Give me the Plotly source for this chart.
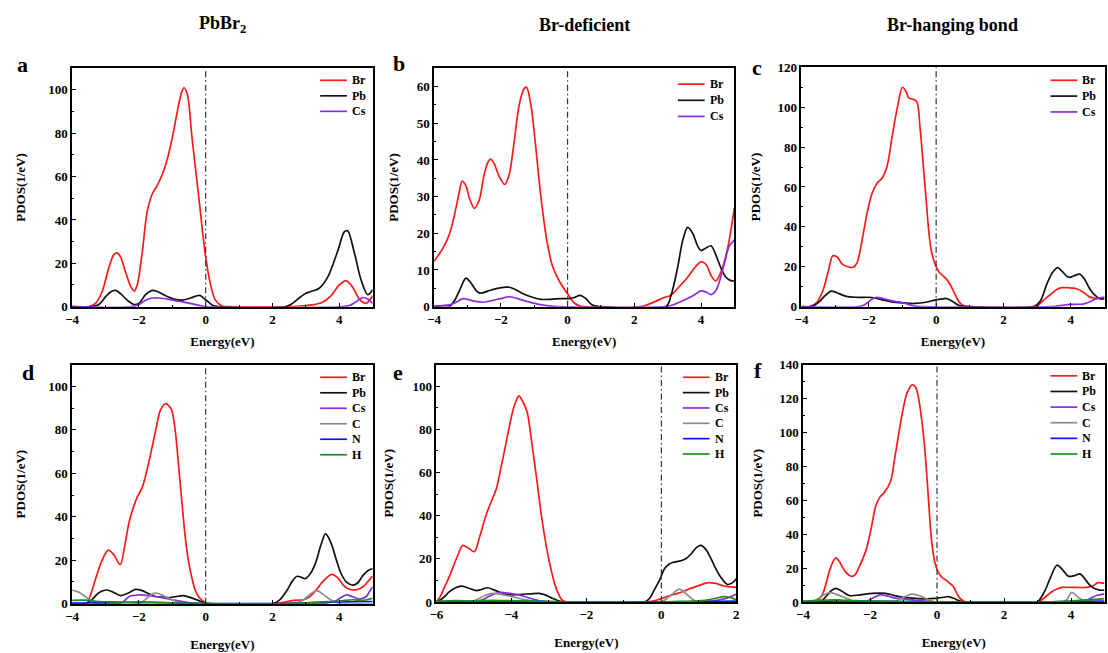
import plotly.graph_objects as go

# ---------------- Panel a : PbBr2 ----------------
a_br_e = [-4.0, -3.5, -3.3, -3.1, -2.9, -2.75, -2.65, -2.55, -2.4, -2.25, -2.14, -2.05, -1.9, -1.75, -1.6, -1.45, -1.3, -1.15, -1.0, -0.85, -0.72, -0.65, -0.55, -0.41, -0.21, -0.01, 0.14, 0.29, 0.49, 0.7, 2.5, 2.9, 3.2, 3.5, 3.75, 4.0, 4.2, 4.4, 4.6, 4.8, 5.0]
a_br_v = [0, 0, 1.5, 7, 18, 24, 24.8, 23, 16, 9.5, 7.2, 10, 25, 44, 52, 56, 61, 68, 78, 90, 99, 101, 98, 78, 51, 24, 10.5, 3, 0.3, 0, 0, 0.4, 0.8, 2.0, 5, 10, 12, 9, 3.5, 1.5, 5]
a_pb_e = [-4.0, -3.4, -3.2, -3.0, -2.85, -2.7, -2.55, -2.35, -2.15, -2.0, -1.8, -1.6, -1.45, -1.2, -0.95, -0.7, -0.45, -0.18, 0.0, 0.2, 0.4, 2.4, 2.6, 2.8, 3.0, 3.2, 3.4, 3.65, 3.95, 4.15, 4.25, 4.45, 4.65, 4.85, 5.0]
a_pb_v = [0, 0, 1, 4.5, 6.8, 7.5, 6, 3, 1, 1.5, 5.5, 7.5, 7, 5, 3.5, 3, 4, 5.2, 3.2, 0.7, 0, 0, 1.5, 4, 6.2, 7.2, 8.5, 13.5, 25.5, 34.5, 35, 25, 12.5, 5.5, 7.8]
a_cs_e = [-4, -2.2, -2.0, -1.8, -1.6, -1.4, -1.1, -0.8, -0.5, -0.2, 0.0, 4.1, 4.3, 4.5, 4.7, 4.85, 5.0]
a_cs_v = [0, 0, 1, 3, 4, 4, 3.4, 2.5, 1.6, 0.6, 0, 0, 0.5, 2.2, 4.2, 3.5, 1.5]

# ---------------- Panel b : Br-deficient ----------------
b_br_e = [-4.0, -3.8, -3.63, -3.5, -3.39, -3.25, -3.16, -3.05, -2.92, -2.79, -2.65, -2.5, -2.38, -2.31, -2.2, -2.05, -1.88, -1.75, -1.6, -1.45, -1.3, -1.23, -1.1, -0.97, -0.8, -0.62, -0.45, -0.25, 0.0, 0.2, 0.4, 0.55, 2.2, 2.6, 2.9, 3.1, 3.35, 3.6, 3.8, 4.0, 4.15, 4.3, 4.44, 4.6, 4.8, 5.0]
b_br_v = [12.4, 15, 17.8, 21, 25, 31, 34.2, 33, 29, 26.8, 29, 36, 39.5, 40.2, 39, 35.5, 33.3, 36, 45, 55, 59.5, 59.8, 55, 45, 30, 18, 11, 7, 3.5, 1.0, 0.1, 0, 0, 1.3, 2.5, 3.1, 5.5, 8, 10.5, 12.2, 11.5, 8.5, 7, 9.5, 16, 27]
b_pb_e = [-4, -3.55, -3.4, -3.24, -3.1, -3.04, -2.9, -2.75, -2.64, -2.5, -2.34, -2.1, -1.85, -1.75, -1.55, -1.35, -1.1, -0.8, -0.5, -0.2, 0.03, 0.2, 0.38, 0.55, 0.73, 0.9, 1.02, 2.95, 3.1, 3.3, 3.45, 3.6, 3.75, 3.9, 4.0, 4.15, 4.3, 4.45, 4.59, 4.75, 4.89, 5.0]
b_pb_v = [0, 0, 1.5, 4.4, 7.2, 7.8, 6.5, 4.5, 3.7, 3.9, 4.4, 5, 5.3, 5.3, 4.6, 3.6, 2.7, 2, 2, 2.2, 2.2, 2.5, 3.1, 2.2, 0.5, 0.1, 0, 0, 3, 10.7, 18, 21.6, 20, 16.5, 15.3, 16, 16.6, 14, 10.7, 8, 7.1, 7]
b_cs_e = [-4, -3.75, -3.53, -3.3, -3.14, -3.0, -2.8, -2.54, -2.3, -2.0, -1.75, -1.5, -1.16, -0.85, -0.56, -0.3, 2.9, 3.1, 3.3, 3.5, 3.7, 3.85, 4.0, 4.15, 4.3, 4.45, 4.59, 4.72, 4.84, 5.0]
b_cs_v = [0.2, 0.3, 0.5, 1.4, 2.2, 2.0, 1.5, 1.2, 1.6, 2.2, 2.7, 2.2, 1.3, 0.6, 0.2, 0, 0, 0.3, 1, 1.8, 2.7, 3.5, 4.3, 4.0, 3.3, 4.5, 8, 12.5, 16.4, 18.2]

# ---------------- Panel c : Br-hanging bond ----------------
c_br_e = [-4, -3.76, -3.55, -3.36, -3.2, -3.07, -2.95, -2.78, -2.62, -2.48, -2.35, -2.19, -2.05, -1.9, -1.75, -1.6, -1.45, -1.31, -1.15, -1.0, -0.9, -0.82, -0.7, -0.58, -0.48, -0.33, -0.14, 0.06, 0.2, 0.3, 0.42, 0.55, 0.7, 0.84, 1.0, 2.9, 3.05, 3.19, 3.33, 3.48, 3.6, 3.73, 3.9, 4.05, 4.17, 4.35, 4.56, 4.7, 4.85, 5.0]
c_br_v = [0, 0, 2, 8.2, 18, 25.5, 25, 21.2, 20, 19.6, 22, 34.3, 47, 57, 62, 64.5, 71, 85, 100, 110, 108, 104.8, 104, 102.9, 90, 60.4, 27.8, 18, 15.5, 13.9, 11, 6.5, 2, 0.3, 0, 0, 1, 3.3, 5.2, 7.3, 8.7, 9.5, 9.5, 9.3, 9, 7.5, 4.9, 4.3, 4.1, 4]
c_pb_e = [-4, -3.7, -3.5, -3.3, -3.12, -2.95, -2.78, -2.58, -2.3, -1.9, -1.6, -1.31, -1.0, -0.63, -0.3, -0.04, 0.15, 0.3, 0.5, 0.65, 0.8, 0.9, 2.9, 3.1, 3.29, 3.45, 3.61, 3.75, 3.9, 3.97, 4.1, 4.26, 4.4, 4.56, 4.7, 4.85, 5.0]
c_pb_v = [0, 0, 2, 5.5, 7.8, 7, 5.8, 4.9, 4.7, 4.6, 3.4, 2.4, 1.9, 1.6, 2.2, 3.3, 3.8, 4.1, 2.5, 0.8, 0.1, 0, 0, 3, 11.4, 17, 19.6, 17.5, 15, 14.7, 15.5, 16.3, 14, 9, 6, 4, 4]
c_cs_e = [-4, -2.3, -2.15, -2.04, -1.9, -1.8, -1.6, -1.41, -1.2, -1.02, -0.8, -0.63, -0.45, 3.4, 3.58, 3.8, 3.97, 4.2, 4.36, 4.55, 4.75, 5.0]
c_cs_v = [0, 0, 0.7, 2, 3.8, 4.6, 4.2, 3.3, 2.6, 2.1, 1.0, 0.3, 0, 0, 0.3, 0.8, 1.1, 1.2, 1.3, 2.3, 4.0, 4.8]

# ---------------- Panel d : PbBr2 with molecule ----------------
d_br_e = [-4, -3.58, -3.45, -3.28, -3.1, -2.92, -2.75, -2.56, -2.42, -2.29, -2.15, -2.05, -1.9, -1.75, -1.6, -1.48, -1.36, -1.21, -1.1, -1.01, -0.9, -0.81, -0.72, -0.62, -0.52, -0.42, -0.32, -0.22, -0.1, -0.03, 0.1, 2.1, 2.4, 2.64, 2.93, 3.1, 3.23, 3.5, 3.77, 3.95, 4.12, 4.25, 4.41, 4.55, 4.71, 4.85, 5.0]
d_br_v = [0, 0, 4, 12.3, 20, 24.6, 22.5, 18, 27, 37.8, 45, 49, 53.5, 62, 72.3, 81, 88.8, 92, 91, 88.8, 78, 63.3, 48, 31.8, 20, 12.3, 6.5, 3.3, 1.5, 0.6, 0, 0, 0.8, 1.5, 1.8, 3, 4.8, 10, 13.5, 12, 8.5, 7, 6.3, 6.5, 7.8, 10, 12.7]
d_pb_e = [-4, -3.58, -3.4, -3.2, -2.98, -2.8, -2.54, -2.3, -2.1, -1.9, -1.7, -1.5, -1.3, -1.11, -0.9, -0.67, -0.45, -0.22, -0.03, 0.1, 2.0, 2.2, 2.44, 2.6, 2.74, 2.88, 2.98, 3.12, 3.28, 3.45, 3.59, 3.75, 3.92, 4.05, 4.21, 4.41, 4.55, 4.71, 4.9, 5.0]
d_pb_v = [0, 0, 2, 5, 6.3, 5.5, 3.7, 5, 6.6, 6, 4.5, 3.3, 3, 2.8, 3.2, 3.7, 2.8, 1.5, 0.3, 0, 0, 1.5, 6.3, 10.5, 12.6, 12, 11.5, 13.5, 18.3, 27, 32.1, 28, 19.8, 14, 10, 8.5, 9.5, 13, 15.6, 16]
d_cs_e = [-4, -2.6, -2.49, -2.29, -2.0, -1.75, -1.5, -1.2, -0.91, -0.65, -0.42, -0.2, 3.5, 3.7, 3.92, 4.05, 4.21, 4.4, 4.61, 4.81, 4.9, 5.0]
d_cs_v = [0, 0, 0.6, 3.3, 4, 3.8, 3.3, 2.4, 1.5, 0.8, 0.3, 0, 0, 0.5, 1.5, 2.8, 4, 3.2, 2.1, 3.3, 5.5, 7.8]
d_c_e = [-4, -3.8, -3.67, -3.5, -3.38, -3.2, -2.0, -1.8, -1.6, -1.45, -1.25, -1.0, -0.81, -0.6, 2.6, 2.8, 2.93, 3.1, 3.33, 3.5, 3.67, 3.8, 3.92, 4.1, 5.0]
d_c_v = [6.3, 5.3, 4, 2.2, 1, 0, 0, 2, 4.5, 4.8, 3.5, 1.8, 0.6, 0, 0, 0.8, 1.8, 4, 6, 4.5, 2.5, 1.3, 0.6, 0, 0]
d_n_e = [-4, -3, -2, -1, 0, 1, 2, 3, 4, 5]
d_n_v = [0.3, 0.4, 0.5, 0.4, 0, 0, 0, 0.4, 0.8, 1.0]
d_h_e = [-4, -3.6, -3.2, -2.8, -2.4, -2.0, -1.5, -1.0, -0.5, 0, 2.5, 3.0, 3.5, 4.0, 4.4, 4.7, 5.0]
d_h_v = [1.5, 1.6, 1.0, 0.8, 0.7, 0.8, 0.6, 0.4, 0.2, 0, 0, 0.4, 0.8, 1.2, 1.8, 1.5, 2.5]

# ---------------- Panel e : Br-deficient with molecule ----------------
e_br_e = [-6, -5.9, -5.78, -5.66, -5.56, -5.42, -5.3, -5.15, -4.99, -4.85, -4.68, -4.55, -4.41, -4.28, -4.15, -3.97, -3.88, -3.8, -3.7, -3.58, -3.45, -3.31, -3.2, -3.09, -2.98, -2.87, -2.75, -2.65, -2.5, -0.4, -0.2, -0.01, 0.2, 0.43, 0.6, 0.78, 1.0, 1.22, 1.45, 1.67, 1.85, 2.0]
e_br_v = [0, 2.5, 7, 11.5, 16, 22, 26.2, 25, 23.3, 30, 40, 46, 52, 62, 73, 88, 93, 95.5, 93, 88, 73, 55, 40, 28, 18, 10, 4, 1, 0, 0, 0.5, 1.5, 2.8, 4, 5, 6.3, 7.6, 8.9, 8.6, 7.4, 7, 6.8]
e_pb_e = [-6, -5.85, -5.65, -5.5, -5.34, -5.15, -4.94, -4.8, -4.63, -4.45, -4.15, -3.95, -3.71, -3.5, -3.27, -3.1, -2.92, -2.75, -2.6, -0.45, -0.3, -0.19, -0.05, 0.08, 0.2, 0.3, 0.52, 0.65, 0.78, 0.92, 1.05, 1.18, 1.31, 1.45, 1.58, 1.7, 1.77, 1.9, 2.0]
e_pb_v = [0, 1.5, 4.8, 6.5, 7.4, 6.5, 5.3, 5.8, 6.6, 5.5, 3.6, 3.3, 3.6, 3.8, 4, 3.3, 1.8, 0.6, 0, 0, 2, 5.6, 10, 15.3, 17.5, 18.3, 19.1, 20, 22, 25, 26.2, 24.5, 20.6, 15.5, 11.6, 9, 8.1, 9, 10.8]
e_cs_e = [-6, -5.0, -4.77, -4.55, -4.33, -4.05, -3.8, -3.58, -3.36, -3.09, -2.9, 1.0, 1.25, 1.49, 1.75, 2.0]
e_cs_v = [0, 0, 1, 3, 4.4, 4, 3.3, 2.2, 1, 0.2, 0, 0, 0.3, 0.8, 1.8, 3.6]
e_c_e = [-6, -5.1, -4.94, -4.7, -4.5, -4.25, -3.97, -3.75, -3.53, -3.3, -0.1, 0.08, 0.28, 0.48, 0.68, 0.87, 1.0, 2.0]
e_c_v = [0, 0, 1, 3, 4, 3.4, 2.5, 1.5, 0.8, 0, 0, 0.8, 3.5, 6, 3.5, 0.8, 0, 0]
e_n_e = [-6, -5, -4, -3, -2.5, 0, 1, 2]
e_n_v = [0.2, 0.3, 0.3, 0.2, 0, 0, 0.2, 0.4]
e_h_e = [-6, -5.5, -5, -4.5, -4, -3.5, -3, -2.5, 0, 0.5, 1.0, 1.4, 1.67, 1.85, 2.0]
e_h_v = [0.3, 0.6, 0.5, 0.8, 0.6, 0.4, 0.2, 0, 0, 0.3, 0.5, 1.5, 2.5, 2.0, 1.0]

# ---------------- Panel f : Br-hanging bond with molecule ----------------
f_br_e = [-4, -3.61, -3.41, -3.21, -3.1, -3.02, -2.92, -2.82, -2.7, -2.57, -2.45, -2.33, -2.13, -1.98, -1.83, -1.7, -1.59, -1.39, -1.27, -1.15, -1.02, -0.9, -0.75, -0.65, -0.56, -0.46, -0.36, -0.26, -0.16, -0.06, 0.04, 0.15, 0.28, 0.38, 0.48, 0.58, 0.68, 0.78, 0.87, 3.0, 3.19, 3.43, 3.6, 3.73, 4.17, 4.46, 4.65, 4.81, 5.0]
f_br_v = [0, 0, 5, 18.5, 24, 26, 24, 20.4, 17, 15.2, 16, 20.4, 30, 42, 56.6, 62, 64.2, 70.9, 84, 98.5, 113, 123, 128, 127, 121, 108, 89, 62, 35.6, 23, 17.5, 14.5, 12.8, 11, 9.3, 5.5, 2.3, 0.7, 0, 0, 2.3, 6.1, 7.8, 8.6, 8.6, 8.6, 9.5, 11.4, 11]
f_pb_e = [-4, -3.51, -3.35, -3.15, -3.02, -2.85, -2.62, -2.3, -1.93, -1.54, -1.3, -1.05, -0.75, -0.46, -0.2, 0.04, 0.2, 0.33, 0.5, 0.63, 0.82, 2.99, 3.1, 3.23, 3.4, 3.58, 3.75, 3.92, 4.1, 4.27, 4.42, 4.56, 4.7, 4.86, 5.0]
f_pb_v = [0, 0, 2.5, 6.8, 8, 6.5, 3.8, 4.2, 5.1, 5.1, 4, 2.9, 2.3, 1.9, 2, 2.3, 2.8, 3.2, 2.2, 1, 0, 0, 2.5, 7, 15, 21.7, 19, 15.2, 15.5, 16.6, 13.5, 9.9, 8, 7, 7]
f_cs_e = [-4, -2.3, -2.13, -1.9, -1.69, -1.45, -1.24, -1.0, -0.75, -0.5, -0.26, -0.05, 4.3, 4.46, 4.6, 4.76, 5.0]
f_cs_v = [0, 0, 0.4, 2.5, 4.2, 3.4, 2.3, 1.8, 1.3, 0.8, 0.4, 0, 0, 1, 2.3, 3.8, 4.8]
f_c_e = [-4, -3.8, -3.61, -3.4, -3.21, -3.0, -2.72, -2.5, -2.43, -1.4, -1.24, -1.0, -0.75, -0.5, -0.26, -0.05, 3.7, 3.87, 4.02, 4.2, 4.37, 4.5, 5.0]
f_c_v = [0, 0.3, 1.3, 4, 5.5, 4.5, 2.3, 0.5, 0, 0, 0.4, 2.8, 4.6, 3.5, 1.3, 0, 0, 1.3, 5.7, 3, 1, 0, 0]
f_n_e = [-4, -3.5, -3, -2, -1, 0, 1, 3, 4, 5]
f_n_v = [0.2, 0.4, 0.6, 0.5, 0.3, 0.1, 0, 0, 0.4, 0.6]
f_h_e = [-4, -3.5, -3.0, -2.5, -2.0, -1.0, 0, 1, 3, 4, 4.5, 5]
f_h_v = [0.5, 1.0, 1.3, 0.8, 0.5, 0.3, 0.1, 0, 0, 0.6, 1.2, 2.0]

column_titles = ["PbBr<sub>2</sub>", "Br-deficient", "Br-hanging bond"]
panel_letters = ["a", "b", "c", "d", "e", "f"]

COLORS = {"Br": "#ff1a1a", "Pb": "#111111", "Cs": "#8a2be2",
          "C": "#8c8c8c", "N": "#1010ff", "H": "#1a8f1a"}
FONT = "Liberation Serif"

W, H = 1108, 653


def px_x(v):
    return v / W


def px_y(v):
    return 1 - v / H


# Layout in page pixels: plot box (left, right, top, bottom), legend
# anchor (line start x, first row y, row step), panel-letter centre,
# y-title standoff.
panels = [
    dict(series=[("Br", a_br_e, a_br_v), ("Pb", a_pb_e, a_pb_v), ("Cs", a_cs_e, a_cs_v)],
         xr=[-4, 5], yr=[0, 110], ydt=20, box=(65.7, 369, 62.7, 306.7),
         leg=(316, 75, 15.9), letter=(16, 59), ystand=20),
    dict(series=[("Br", b_br_e, b_br_v), ("Pb", b_pb_e, b_pb_v), ("Cs", b_cs_e, b_cs_v)],
         xr=[-4, 5], yr=[0, 65], ydt=10, box=(431, 734, 62.7, 306.7),
         leg=(677, 79, 16.5), letter=(396, 58), ystand=15),
    dict(series=[("Br", c_br_e, c_br_v), ("Pb", c_pb_e, c_pb_v), ("Cs", c_cs_e, c_cs_v)],
         xr=[-4, 5], yr=[0, 120], ydt=20, box=(801.7, 1107.5, 61.7, 306.7),
         leg=(1053, 75, 16.2), letter=(757, 62), ystand=14),
    dict(series=[("Br", d_br_e, d_br_v), ("Pb", d_pb_e, d_pb_v), ("Cs", d_cs_e, d_cs_v),
                 ("C", d_c_e, d_c_v), ("N", d_n_e, d_n_v), ("H", d_h_e, d_h_v)],
         xr=[-4, 5], yr=[0, 110], ydt=20, box=(65.7, 369, 366, 610.7),
         leg=(316, 379, 15.85), letter=(21, 374), ystand=20),
    dict(series=[("Br", e_br_e, e_br_v), ("Pb", e_pb_e, e_pb_v), ("Cs", e_cs_e, e_cs_v),
                 ("C", e_c_e, e_c_v), ("N", e_n_e, e_n_v), ("H", e_h_e, e_h_v)],
         xr=[-6, 2], yr=[0, 110], ydt=20, box=(433.3, 736, 366, 609),
         leg=(682, 379, 15.7), letter=(395, 374), ystand=16),
    dict(series=[("Br", f_br_e, f_br_v), ("Pb", f_pb_e, f_pb_v), ("Cs", f_cs_e, f_cs_v),
                 ("C", f_c_e, f_c_v), ("N", f_n_e, f_n_v), ("H", f_h_e, f_h_v)],
         xr=[-4, 5], yr=[0, 140], ydt=20, box=(803.3, 1107.5, 366, 609),
         leg=(1053, 377.5, 16.0), letter=(758, 372), ystand=14),
]

fig = go.Figure()
layout = dict(width=W, height=H, margin=dict(l=0, r=0, t=0, b=0),
              paper_bgcolor="white", plot_bgcolor="white", showlegend=False,
              font=dict(family=FONT, color="black"))
annotations = []
shapes = []

for i, p in enumerate(panels):
    n = i + 1
    sfx = "" if n == 1 else str(n)
    x0, x1, y0, y1 = p["box"]
    bottom_row = i >= 3
    for name, xs, ys in p["series"]:
        fig.add_trace(go.Scatter(
            x=xs, y=ys, name=name, mode="lines",
            line=dict(color=COLORS[name], width=1.7, shape="spline", smoothing=0.9),
            xaxis="x" + sfx, yaxis="y" + sfx,
        ))
    tickfont = dict(family=FONT, size=13, weight="bold", color="black")
    titlefont = dict(family=FONT, size=13, weight="bold", color="black")
    layout["xaxis" + sfx] = dict(
        domain=[px_x(x0), px_x(x1)], anchor="y" + sfx, range=p["xr"],
        dtick=2, tick0=0, ticks="inside", ticklen=4, tickwidth=1.2, tickcolor="black",
        minor=dict(dtick=1, ticks="inside", ticklen=2, tickcolor="black"),
        showline=True, linecolor="black", linewidth=1.5, mirror=True,
        showgrid=False, zeroline=False, tickfont=tickfont,
        title=dict(text="Energy(eV)", standoff=17 if bottom_row else 11, font=titlefont),
    )
    layout["yaxis" + sfx] = dict(
        domain=[px_y(y1), px_y(y0)], anchor="x" + sfx, range=p["yr"],
        dtick=p["ydt"], tick0=0, ticks="inside", ticklen=4, tickwidth=1.2, tickcolor="black",
        minor=dict(dtick=p["ydt"] / 2, ticks="inside", ticklen=2, tickcolor="black"),
        showline=True, linecolor="black", linewidth=1.5, mirror=True,
        showgrid=False, zeroline=False, tickfont=tickfont,
        title=dict(text="PDOS(1/eV)", standoff=p["ystand"], font=titlefont),
    )
    # Fermi level marker
    shapes.append(dict(type="line", xref="x" + sfx, yref=f"y{sfx} domain",
                       x0=0, x1=0, y0=0, y1=1,
                       line=dict(color="#333333", width=1.2, dash="6px,3px,1.5px,3px")))
    # legend: short line sample + element label per series
    lx, ly, dy = p["leg"]
    for k, (name, _, _) in enumerate(p["series"]):
        yy = ly + k * dy
        shapes.append(dict(type="line", xref="paper", yref="paper",
                           x0=px_x(lx), x1=px_x(lx + 27), y0=px_y(yy), y1=px_y(yy),
                           line=dict(color=COLORS[name], width=1.7)))
        annotations.append(dict(text=name, xref="paper", yref="paper",
                                x=px_x(lx + 30), y=px_y(yy), xanchor="left", yanchor="middle",
                                showarrow=False,
                                font=dict(family=FONT, size=12, weight="bold", color="black")))
    # panel letter
    cx, cy = p["letter"]
    annotations.append(dict(text=panel_letters[i], xref="paper", yref="paper",
                            x=px_x(cx), y=px_y(cy), xanchor="center", yanchor="middle",
                            showarrow=False,
                            font=dict(family=FONT, size=22, weight="bold", color="black")))

for j, t in enumerate(column_titles):
    x0, x1 = panels[j]["box"][0], panels[j]["box"][1]
    annotations.append(dict(text=t, xref="paper", yref="paper",
                            x=px_x((x0 + x1) / 2), y=px_y(18), xanchor="center", yanchor="middle",
                            showarrow=False,
                            font=dict(family=FONT, size=18, weight="bold", color="black")))

layout["annotations"] = annotations
layout["shapes"] = shapes
fig.update_layout(**layout)
fig.write_html("out.html")
